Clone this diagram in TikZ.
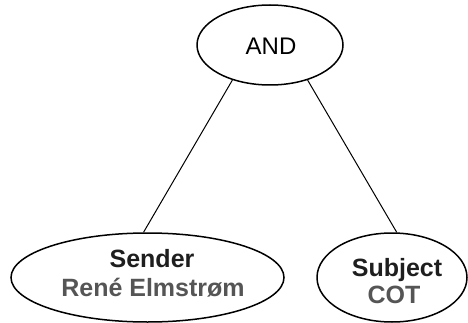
\documentclass[tikz,border=0pt]{standalone}
\usepackage{fontspec}
\setmainfont{Liberation Sans}
\usetikzlibrary{shapes.geometric}
\definecolor{headink}{HTML}{1E1E1E}
\definecolor{valueink}{HTML}{555555}
\tikzset{
  oval/.style={draw=black, line width=1.5pt, ellipse, inner sep=0pt},
  link/.style={draw=black, line width=1pt},
  opword/.style={anchor=base, inner sep=0pt, font=\fontsize{24}{28}\selectfont, text=black},
  head/.style={anchor=base, inner sep=0pt, font=\fontsize{25}{29}\selectfont\bfseries, text=headink},
  value/.style={anchor=base, inner sep=0pt, font=\fontsize{25}{29}\selectfont\bfseries, text=valueink}
}
\begin{document}
\begin{tikzpicture}[x=1pt, y=-1pt]
  \useasboundingbox (0,0) rectangle (468,323);
  % operator node
  \node[oval, minimum width=146pt, minimum height=80pt] (and) at (270,45) {};
  \node[opword] (andtxt) at (271,55) {AND};
  % operand nodes
  \node[oval, minimum width=273pt, minimum height=89pt] (sender) at (147.5,277.5) {};
  \node[head] (sendertxt) at (152,267) {Sender};
  \node[value] (sendername) at (153,296) {René Elmstrøm};
  \node[oval, minimum width=150pt, minimum height=89pt] (subject) at (392,277.5) {};
  \node[head] (subjecttxt) at (397,276) {Subject};
  \node[value] (subjectval) at (394,303) {COT};
  % connectors
  \draw[link] (and.223) -- (sender.95);
  \draw[link] (and.317) -- (subject.84);
\end{tikzpicture}
\end{document}
